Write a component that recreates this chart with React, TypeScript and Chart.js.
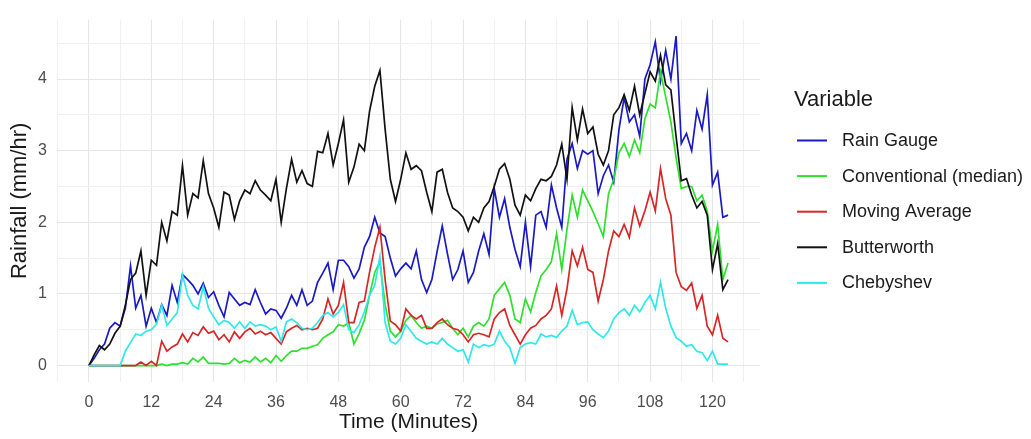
import React, { useEffect, useRef } from "react";
import { Chart, registerables } from "chart.js";

Chart.register(...registerables);

// Time in minutes (sampling positions of the series)
const minutes: number[] = Array.from({ length: 124 }, (_, i) => i);

const rainGauge = [
  0, 0.1, 0.22, 0.3, 0.52, 0.6, 0.55, 0.8, 1.39, 0.8,
  0.98, 0.55, 0.8, 0.6, 0.85, 0.7, 1.12, 0.88, 1.27, 1.2,
  1.12, 1.0, 1.15, 0.95, 1.03, 0.84, 0.68, 1.02, 0.93, 0.84,
  0.88, 0.85, 1.06, 0.88, 0.72, 0.79, 0.77, 0.66, 0.8, 0.98,
  0.84, 1.06, 0.84, 0.9, 1.16, 1.29, 1.43, 1.06, 1.47, 1.47,
  1.38, 1.22, 1.35, 1.65, 1.8, 2.07, 1.85, 1.8, 1.5, 1.25,
  1.35, 1.43, 1.35, 1.6, 1.2, 1.02, 1.2, 1.59, 1.95, 1.56,
  1.2, 1.34, 1.6, 1.16, 1.3, 1.6, 1.84, 1.55, 2.47, 2.07,
  2.33, 1.93, 1.62, 1.38, 2.0, 1.38, 2.1, 2.15, 1.93, 2.52,
  2.2, 1.93, 2.88, 3.1, 2.75, 3.0, 2.95, 3.0, 2.4, 2.65,
  2.8, 2.56, 3.29, 3.74, 3.4, 3.5, 3.2, 4.0, 4.2, 4.52,
  3.97, 4.4, 4.0, 4.6, 3.1, 3.24, 3.0, 3.56, 3.3, 3.78,
  2.52, 2.7, 2.07, 2.1,
];

const conventionalMedian = [
  0, 0, 0, 0, 0, 0, 0, 0, 0, 0,
  0, 0, 0, 0, 0.02, 0, 0.02, 0.02, 0.04, 0.02,
  0.1, 0.05, 0.12, 0.03, 0.03, 0.03, 0.02, 0.03, 0.1, 0.04,
  0.07, 0.05, 0.12, 0.05, 0.1, 0.04, 0.14, 0.06, 0.14, 0.2,
  0.2, 0.24, 0.24, 0.27, 0.29, 0.38, 0.43, 0.47, 0.57, 0.55,
  0.6, 0.3, 0.45, 0.63, 0.98, 1.3, 1.45, 0.85, 0.48, 0.4,
  0.48, 0.63, 0.7, 0.6, 0.52, 0.55, 0.52, 0.58, 0.6, 0.63,
  0.52, 0.43, 0.52, 0.4, 0.55, 0.6, 0.55, 0.65, 0.98, 1.07,
  1.16, 0.98, 0.65, 0.6, 0.93, 0.75, 1.02, 1.25, 1.34, 1.45,
  1.84, 1.34, 1.9, 2.38, 2.07, 2.45, 2.3, 2.15, 1.98, 1.8,
  2.4, 2.6, 2.97, 3.1, 2.92, 3.15, 2.97, 3.45, 3.65, 3.6,
  4.1, 3.75, 3.4, 2.9, 2.47, 2.5, 2.5, 2.3, 2.38, 2.15,
  1.6, 1.97, 1.2, 1.43,
];

const movingAverage = [
  0, 0, 0, 0, 0, 0, 0, 0, 0, 0,
  0.05, 0, 0.06, 0, 0.34, 0.2, 0.26, 0.3, 0.44, 0.33,
  0.46, 0.42, 0.54, 0.45, 0.48, 0.36, 0.43, 0.33, 0.47, 0.38,
  0.47, 0.52, 0.44, 0.48, 0.43, 0.46, 0.38, 0.3, 0.47, 0.52,
  0.56, 0.5, 0.52, 0.5, 0.52, 0.65, 0.93, 0.72, 0.84, 1.16,
  0.6, 0.6, 0.88, 0.9, 1.3, 1.65, 1.93, 1.2, 0.62, 0.57,
  0.48, 0.79, 0.7, 0.65, 0.7, 0.52, 0.52, 0.6, 0.65, 0.57,
  0.52, 0.5, 0.43, 0.33, 0.43, 0.45, 0.43, 0.4, 0.65, 0.74,
  0.79, 0.56, 0.43, 0.3, 0.43, 0.52, 0.56, 0.65, 0.7, 0.79,
  1.11, 0.7, 1.07, 1.6, 1.39, 1.65, 1.34, 1.3, 0.9, 1.2,
  1.6, 1.88, 1.8, 1.97, 1.79, 2.2, 1.95, 2.16, 2.42, 2.16,
  2.75, 2.33, 2.1, 1.3, 1.1, 1.05, 1.15, 0.8, 0.98, 0.55,
  0.43, 0.7, 0.38, 0.33,
];

const butterworth = [
  0, 0.15, 0.28, 0.22, 0.3, 0.45, 0.55, 0.84, 1.2, 1.29,
  1.6, 0.98, 1.47, 1.4, 2.0, 1.74, 2.15, 2.1, 2.79, 2.1,
  2.4, 2.34, 2.86, 2.4, 2.2, 1.93, 2.42, 2.38, 2.04, 2.3,
  2.45, 2.4, 2.58, 2.45, 2.38, 2.3, 2.6, 2.0, 2.47, 2.88,
  2.56, 2.72, 2.54, 2.5, 2.99, 2.97, 3.24, 2.8, 3.1, 3.43,
  2.56, 2.77, 3.09, 3.0, 3.55, 3.9, 4.12, 3.3, 2.6, 2.29,
  2.6, 2.97, 2.74, 2.79, 2.72, 2.42, 2.15, 2.7, 2.74, 2.42,
  2.2, 2.15, 2.07, 1.88, 2.07, 2.0, 2.2, 2.29, 2.5, 2.74,
  2.82, 2.6, 2.24, 2.1, 2.38, 2.3, 2.47, 2.6, 2.58, 2.64,
  2.8, 3.09, 2.6, 3.6, 3.15, 3.58, 3.24, 3.33, 2.95, 2.8,
  3.0, 3.5, 3.6, 3.78, 3.56, 3.9, 3.5, 3.8, 4.1, 3.97,
  4.33, 3.92, 3.85, 3.2, 2.58, 2.61, 2.38, 2.2, 2.29, 2.1,
  1.34, 1.7, 1.06, 1.2,
];

const chebyshev = [
  0, 0, 0, 0, 0, 0, 0, 0.2, 0.32, 0.44,
  0.42, 0.48, 0.5, 0.58, 0.84, 0.56, 0.65, 0.74, 1.27, 0.98,
  0.84, 0.79, 1.1, 0.8, 0.68, 0.57, 0.63, 0.6, 0.52, 0.61,
  0.52, 0.61, 0.55, 0.57, 0.55, 0.5, 0.54, 0.34, 0.61, 0.65,
  0.6, 0.52, 0.5, 0.52, 0.6, 0.7, 0.74, 0.68, 0.74, 0.85,
  0.5, 0.46, 0.57, 0.75, 0.98, 1.12, 1.52, 0.6, 0.34, 0.3,
  0.38, 0.57, 0.48, 0.38, 0.34, 0.3, 0.33, 0.3, 0.38, 0.3,
  0.25, 0.2, 0.22, 0.05, 0.3, 0.25, 0.29, 0.27, 0.3, 0.48,
  0.34, 0.25, 0.03, 0.25, 0.3, 0.32, 0.3, 0.44, 0.4, 0.42,
  0.39, 0.48, 0.55, 0.77, 0.57, 0.6, 0.61, 0.5, 0.44, 0.39,
  0.48, 0.65, 0.74, 0.79, 0.7, 0.84, 0.75, 0.88, 0.98, 0.79,
  1.16, 0.8, 0.55, 0.39, 0.34, 0.27, 0.29, 0.2, 0.18, 0.07,
  0.2, 0.02, 0.02, 0.02,
];

const seriesNames = [
  "Rain Gauge",
  "Conventional (median)",
  "Moving Average",
  "Butterworth",
  "Chebyshev",
];
const seriesColors = ["#1a1ac4", "#2ee02e", "#d82626", "#111111", "#30e8e8"];
const seriesValues = [rainGauge, conventionalMedian, movingAverage, butterworth, chebyshev];

const xGridValues = [-6, 0, 6, 12, 18, 24, 30, 36, 42, 48, 54, 60, 66, 72, 78, 84, 90, 96, 102, 108, 114, 120, 126];
const xTickLabels = [0, 12, 24, 36, 48, 60, 72, 84, 96, 108, 120];
const yGridValues = [0, 0.5, 1, 1.5, 2, 2.5, 3, 3.5, 4, 4.5];
const yTickLabels = [0, 1, 2, 3, 4];

const legendTitle = "Variable";
const xTitle = "Time (Minutes)";
const yTitle = "Rainfall (mm/hr)";

const FONT = '"Liberation Sans", Arial, Helvetica, sans-serif';

const legendPlugin = {
  id: "ggLegend",
  afterDraw(chart: any) {
    const ctx = chart.ctx as CanvasRenderingContext2D;
    ctx.save();
    ctx.textAlign = "left";
    ctx.textBaseline = "middle";
    ctx.fillStyle = "#1a1a1a";
    ctx.font = `22px ${FONT}`;
    ctx.fillText(legendTitle, 794, 100);
    chart.data.datasets.forEach((ds: any, i: number) => {
      const y = 140.5 + i * 35.6;
      ctx.strokeStyle = ds.borderColor;
      ctx.lineWidth = 2;
      ctx.beginPath();
      ctx.moveTo(797, y);
      ctx.lineTo(827, y);
      ctx.stroke();
      ctx.fillStyle = "#1a1a1a";
      ctx.font = `18px ${FONT}`;
      ctx.fillText(ds.label, 842, y + 0.5);
    });
    ctx.restore();
  },
};

export default function App() {
  const canvasRef = useRef<HTMLCanvasElement | null>(null);

  useEffect(() => {
    if (!canvasRef.current) return;
    const n = seriesNames.length;
    const datasets = seriesNames.map((name, i) => ({
      label: name,
      data: minutes.map((t, j) => ({ x: t, y: seriesValues[i][j] })),
      borderColor: seriesColors[i],
      backgroundColor: seriesColors[i],
      borderWidth: 1.7,
      pointRadius: 0,
      tension: 0,
      fill: false,
      order: n - i,
    }));

    const chart = new Chart(canvasRef.current, {
      type: "line",
      data: { datasets },
      plugins: [legendPlugin],
      options: {
        animation: false,
        responsive: false,
        devicePixelRatio: 1,
        layout: { padding: { left: 0, top: 10, right: 271, bottom: 0 } },
        plugins: {
          legend: { display: false },
          tooltip: { enabled: false },
        },
        scales: {
          x: {
            type: "linear",
            min: -6.15,
            max: 129.15,
            afterBuildTicks: (s: any) => {
              s.ticks = xGridValues.map((v) => ({ value: v }));
            },
            afterFit: (s: any) => {
              s.height = 57;
            },
            border: { display: false },
            grid: {
              drawTicks: false,
              lineWidth: 1,
              color: (c: any) =>
                c.tick && xTickLabels.includes(c.tick.value) ? "#e6e6e6" : "#f0f0f0",
            },
            ticks: {
              autoSkip: false,
              maxRotation: 0,
              padding: 11,
              color: "#4d4d4d",
              font: { size: 16, family: FONT },
              callback: (v: any) => (xTickLabels.includes(Number(v)) ? String(v) : ""),
            },
            title: {
              display: true,
              text: xTitle,
              color: "#1a1a1a",
              font: { size: 21, family: FONT },
              padding: { top: 0, bottom: 4 },
            },
          },
          y: {
            type: "linear",
            min: -0.23,
            max: 4.83,
            afterBuildTicks: (s: any) => {
              s.ticks = yGridValues.map((v) => ({ value: v }));
            },
            afterFit: (s: any) => {
              s.width = 57;
            },
            border: { display: false },
            grid: {
              drawTicks: false,
              lineWidth: 1,
              color: (c: any) =>
                c.tick && yTickLabels.includes(c.tick.value) ? "#e6e6e6" : "#f0f0f0",
            },
            ticks: {
              padding: 10,
              color: "#4d4d4d",
              font: { size: 16, family: FONT },
              callback: (v: any) => (yTickLabels.includes(Number(v)) ? String(v) : ""),
            },
            title: {
              display: true,
              text: yTitle,
              color: "#1a1a1a",
              font: { size: 22, family: FONT },
              padding: { top: 7, bottom: 0 },
            },
          },
        },
      },
    } as any);

    return () => chart.destroy();
  }, []);

  return (
    <div style={{ position: "absolute", left: 0, top: 0, width: 1031, height: 439, background: "#ffffff" }}>
      <canvas ref={canvasRef} width={1031} height={439} style={{ display: "block" }} />
    </div>
  );
}
